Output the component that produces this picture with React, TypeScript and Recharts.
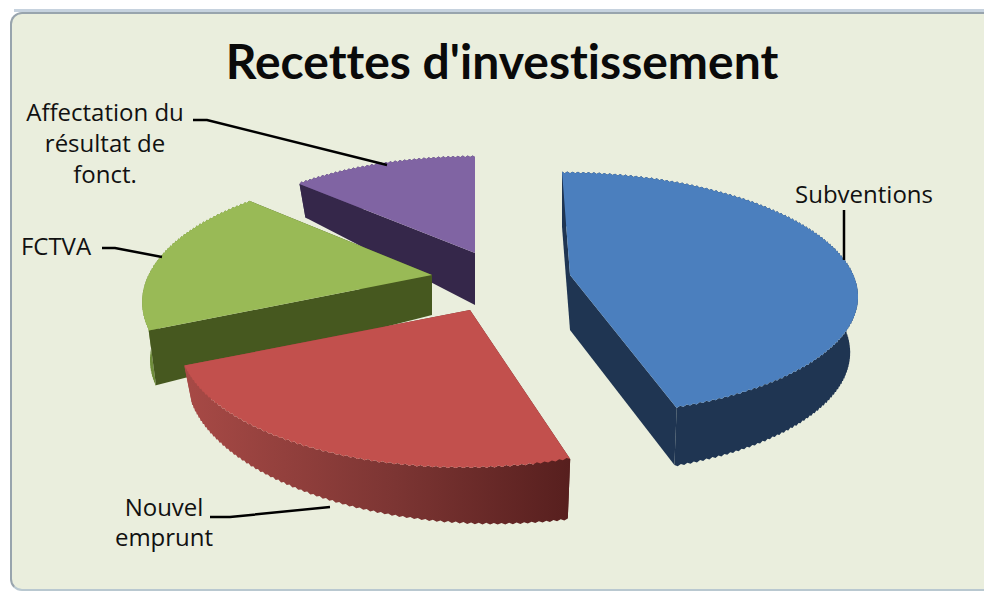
import { Pie, PieChart } from "recharts"

const sliceNames = ["Affectation du résultat de fonct.", "FCTVA", "Nouvel emprunt", "Subventions"]
const sliceValues = [13.1, 18.6, 23.1, 45.2]
const labelLines = [["Affectation du", "résultat de", "fonct."], ["FCTVA"], ["Nouvel", "emprunt"], ["Subventions"]]
const chartTitle = "Recettes d'investissement"

const data = sliceNames.map((name, i) => ({ name, value: sliceValues[i] }))

// look of the 3D pie: every slice has its own offset, perspective and wall height,
// the source picture was stretched so one projection does not fit them all
const WALL_LEAN = 8
const sliceStyles = [
  { dx: 25, dy: -27, tilt: 0.412, persp: 0.216, sx: 0.97, skew: 0, top: "#8064a3", wall: "#35274a", rim: "#4a3a66", depth: [52, 25, 0] },
  { dx: -18, dy: -5, tilt: 0.438, persp: 0.216, sx: 1, skew: 0, top: "#99ba56", wall: "#46581f", rim: "#6f8d3b", depth: [40, -16, 0] },
  { dx: 20, dy: 30, tilt: 0.438, persp: 0.216, sx: 1, skew: 6, top: "#c2504d", wall: "url(#red-wall)", rim: "url(#red-wall)", depth: [52, 18, -2] },
  { dx: 120, dy: -5, tilt: 0.417, persp: 0.159, sx: 1, skew: -8, top: "#4b7fbe", wall: "#1f3552", rim: "#1f3552", depth: [55, -2, -3] },
]
const labelStyles = [
  { x: 105, ys: [121, 152, 183], line: "193,120 207,120 387,165" },
  { x: 56, ys: [255], line: "102,248 115,248 162,257" },
  { x: 164, ys: [516, 546], line: "210,517 230,517 330,507" },
  { x: 864, ys: [203], line: "844,210 844,260" },
]

function points(list: number[][]) {
  return list.map((p) => `${p[0].toFixed(1)},${p[1].toFixed(1)}`).join(" ")
}

function Slice3D(props: any) {
  const { cx, cy, outerRadius, startAngle, endAngle } = props
  const idx = sliceNames.indexOf(props.payload?.name ?? props.name)
  const s = sliceStyles[idx]
  const ox = cx + s.dx
  const oy = cy + s.dy

  const project = (X: number, Y: number) => {
    const w = 1 + s.persp * Y
    return [ox + (outerRadius * s.sx * X) / w + s.skew * Y, oy - (outerRadius * s.tilt * Y) / w]
  }
  const wallDepth = (X: number, Y: number) => s.depth[0] + s.depth[1] * X + s.depth[2] * Y

  // outer rim, sampled finely with a small alternating offset for the sawtooth edge
  const arc: number[][] = []
  const low: number[][] = []
  const steps = Math.ceil(Math.abs(endAngle - startAngle) * 1.6)
  for (let i = 0; i <= steps; i++) {
    const a = ((startAngle + ((endAngle - startAngle) * i) / steps) * Math.PI) / 180
    const X = Math.cos(a)
    const Y = Math.sin(a)
    const p = project(X, Y)
    const jag = i % 2 === 0 ? 0 : 1.6
    arc.push([p[0], p[1] - jag])
    low.push([p[0] - WALL_LEAN * X, p[1] + wallDepth(X, Y) + jag])
  }
  const first = arc[0]
  const last = arc[arc.length - 1]
  const apex = [ox, oy]
  const apexLow = [ox, oy + wallDepth(0, 0)]
  const firstLow = low[0]
  const lastLow = low[low.length - 1]

  return (
    <g>
      <polygon points={points([...arc, ...[...low].reverse()])} fill={s.rim} />
      <polygon points={points([apex, first, firstLow, apexLow])} fill={s.wall} />
      <polygon points={points([apex, last, lastLow, apexLow])} fill={s.wall} />
      <polygon points={points([apex, ...arc])} fill={s.top} />
    </g>
  )
}

function SliceLabel(props: any) {
  const st = labelStyles[props.index]
  return (
    <g>
      <polyline points={st.line} fill="none" stroke="#000" strokeWidth={2.5} />
      {labelLines[props.index].map((t, i) => (
        <text
          key={t}
          x={st.x}
          y={st.ys[i]}
          textAnchor="middle"
          fontFamily="'Open Sans', sans-serif"
          fontSize={24}
          fill="#111"
        >
          {t}
        </text>
      ))}
    </g>
  )
}

export default function App() {
  return (
    <div style={{ position: "absolute", left: 0, top: 0, width: 984, height: 591, background: "#fff", overflow: "hidden" }}>
      <div
        style={{
          position: "absolute",
          left: 10,
          top: 12,
          width: 990,
          height: 579,
          boxSizing: "border-box",
          background: "#eaeedd",
          border: "2px solid #98a4ad",
          borderBottomColor: "#b9c8d0",
          borderRadius: 12,
        }}
      />
      <div style={{ position: "absolute", left: 14, top: 9, width: 970, height: 3, background: "#c6d2de" }} />
      <div style={{ position: "absolute", left: 0, top: 0 }}>
        <PieChart width={984} height={591} margin={{ top: 0, right: 0, bottom: 0, left: 0 }}>
          <defs>
            <linearGradient id="red-wall" gradientUnits="userSpaceOnUse" x1="182" y1="0" x2="570" y2="0">
              <stop offset="0%" stopColor="#a84a46" />
              <stop offset="55%" stopColor="#7c3533" />
              <stop offset="100%" stopColor="#571f1e" />
            </linearGradient>
          </defs>
          <text
            x={502}
            y={79}
            textAnchor="middle"
            fontFamily="Lato, sans-serif"
            fontWeight={700}
            fontSize={48}
            fill="#0a0a0a"
            style={{ fontVariantLigatures: "none" }}
          >
            {chartTitle}
          </text>
          <Pie
            data={data}
            dataKey="value"
            nameKey="name"
            cx={450}
            cy={280}
            outerRadius={283}
            startAngle={90}
            endAngle={450}
            stroke="none"
            shape={Slice3D}
            label={SliceLabel}
            labelLine={false}
            isAnimationActive={false}
          />
        </PieChart>
      </div>
    </div>
  )
}
